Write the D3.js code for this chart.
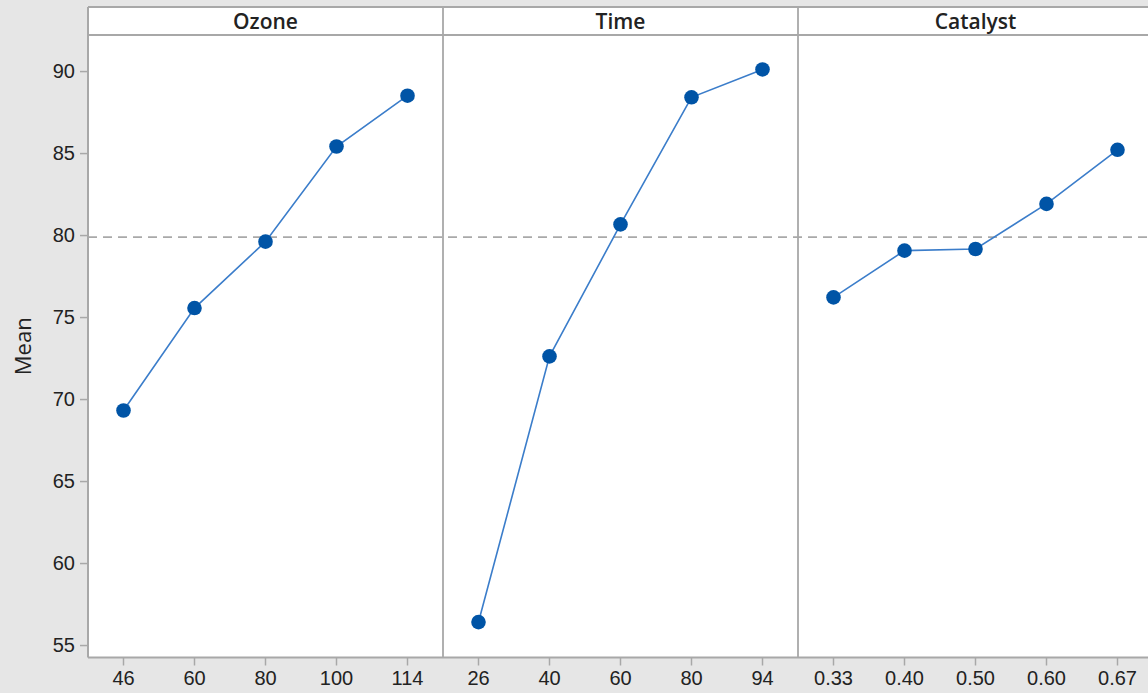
<!DOCTYPE html>
<html>
<head>
<meta charset="utf-8">
<script src="https://cdn.jsdelivr.net/npm/d3@7"></script>
<style>
  html, body { margin: 0; padding: 0; background: #e6e6e6; }
  svg { display: block; font-family: "Open Sans", "Noto Sans", sans-serif; }
</style>
</head>
<body>
<svg id="chart" width="1148" height="693"></svg>
<script>
// ---- data ----
const factorNames = ["Ozone", "Time", "Catalyst"];
const ozoneLevels = ["46", "60", "80", "100", "114"];
const ozoneMeans = [69.3, 75.55, 79.6, 85.4, 88.5];
const timeLevels = ["26", "40", "60", "80", "94"];
const timeMeans = [56.4, 72.6, 80.65, 88.4, 90.1];
const catalystLevels = ["0.33", "0.40", "0.50", "0.60", "0.67"];
const catalystMeans = [76.2, 79.05, 79.15, 81.9, 85.2];
const yTicks = [55, 60, 65, 70, 75, 80, 85, 90];
const grandMean = 79.87;
const yLabel = "Mean";

const panels = [
  { name: factorNames[0], levels: ozoneLevels, means: ozoneMeans },
  { name: factorNames[1], levels: timeLevels, means: timeMeans },
  { name: factorNames[2], levels: catalystLevels, means: catalystMeans }
];

// ---- layout ----
const svg = d3.select("#chart");
const plotLeft = 88, plotTop = 7, headerBottom = 35, plotBottom = 657.5, panelW = 355;
const axisColor = "#a8a8a8";
const textColor = "#222";
const markerColor = "#0054a6";
const lineColor = "#3b7dca";

const y = d3.scaleLinear().domain([54.24, 92.2]).range([plotBottom, headerBottom]);

// white plot background (extends beyond right edge)
svg.append("rect")
  .attr("x", plotLeft).attr("y", plotTop)
  .attr("width", panelW * 3).attr("height", plotBottom - plotTop)
  .attr("fill", "#fff");

// grand mean reference line
svg.append("line")
  .attr("x1", plotLeft).attr("x2", plotLeft + panelW * 3)
  .attr("y1", y(grandMean)).attr("y2", y(grandMean))
  .attr("stroke", "#a9a9a9").attr("stroke-width", 1.8)
  .attr("stroke-dasharray", "9,6");

// y axis
const yAxis = d3.axisLeft(y).tickValues(yTicks).tickSize(8).tickPadding(5).tickFormat(d3.format("d"));
const gy = svg.append("g").attr("transform", `translate(${plotLeft},0)`).call(yAxis);
gy.select(".domain").remove();
gy.selectAll(".tick line").attr("stroke", axisColor).attr("stroke-width", 1.5);
gy.selectAll(".tick text").attr("fill", textColor).style("font-size", "20px");

// y label
svg.append("text")
  .attr("transform", `translate(31, ${(headerBottom + plotBottom) / 2}) rotate(-90)`)
  .attr("text-anchor", "middle")
  .attr("fill", textColor)
  .style("font-size", "22px")
  .text(yLabel);

panels.forEach((p, i) => {
  const x0 = plotLeft + i * panelW;
  const x = d3.scaleBand().domain(p.levels).range([x0, x0 + panelW]).padding(0);
  const cx = d => x(d) + x.bandwidth() / 2;

  // x axis
  const xAxis = d3.axisBottom(x).tickSize(8).tickPadding(5);
  const gx = svg.append("g").attr("transform", `translate(0,${plotBottom})`).call(xAxis);
  gx.select(".domain").remove();
  gx.selectAll(".tick line").attr("stroke", axisColor).attr("stroke-width", 1.5);
  gx.selectAll(".tick text").attr("fill", textColor).style("font-size", "20px");

  // header text
  svg.append("text")
    .attr("x", x0 + panelW / 2).attr("y", (plotTop + headerBottom) / 2 + 2)
    .attr("text-anchor", "middle").attr("dominant-baseline", "middle")
    .attr("fill", textColor)
    .style("font-size", "21px").style("font-weight", 600)
    .text(p.name);

  const pts = p.levels.map((l, j) => [cx(l), y(p.means[j])]);
  svg.append("path")
    .attr("d", d3.line()(pts))
    .attr("fill", "none").attr("stroke", lineColor).attr("stroke-width", 1.6);
  svg.append("g").selectAll("circle").data(pts).join("circle")
    .attr("cx", d => d[0]).attr("cy", d => d[1]).attr("r", 7.3)
    .attr("fill", markerColor);

  // panel divider
  if (i > 0) {
    svg.append("line")
      .attr("x1", x0).attr("x2", x0).attr("y1", plotTop).attr("y2", plotBottom)
      .attr("stroke", axisColor).attr("stroke-width", 1.8);
  }
});

// frame lines
const plotRight = plotLeft + panelW * 3;
svg.append("line").attr("x1", plotLeft).attr("x2", plotRight).attr("y1", plotTop).attr("y2", plotTop)
  .attr("stroke", axisColor).attr("stroke-width", 2);
svg.append("line").attr("x1", plotLeft).attr("x2", plotRight).attr("y1", headerBottom).attr("y2", headerBottom)
  .attr("stroke", axisColor).attr("stroke-width", 2);
svg.append("line").attr("x1", plotLeft).attr("x2", plotRight).attr("y1", plotBottom).attr("y2", plotBottom)
  .attr("stroke", axisColor).attr("stroke-width", 2);
svg.append("line").attr("x1", plotLeft).attr("x2", plotLeft).attr("y1", plotTop).attr("y2", plotBottom)
  .attr("stroke", axisColor).attr("stroke-width", 2);
</script>
</body>
</html>
